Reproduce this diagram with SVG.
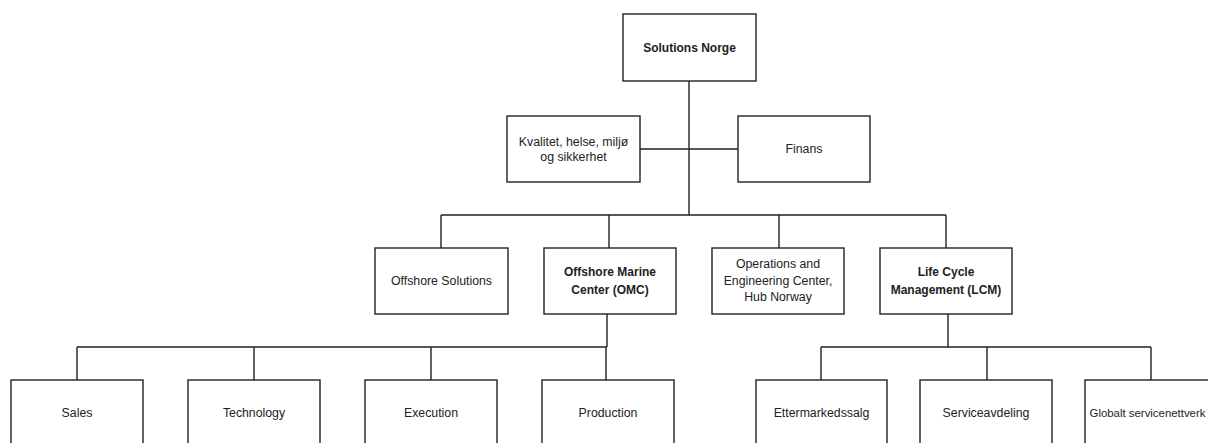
<svg xmlns="http://www.w3.org/2000/svg" width="1208" height="443" viewBox="0 0 1208 443">
<style>
.box{fill:#fff;stroke:#222;stroke-width:1.4}
.t{font-family:"Liberation Sans",Arial,sans-serif;font-size:12.3px;fill:#222;text-anchor:middle;dominant-baseline:central}
.b{font-weight:bold;font-size:12px}
.c{stroke:#222;stroke-width:1.4;fill:none}
</style>
<rect width="1208" height="443" fill="#fff"/>
<g id="connectors">
<path class="c" d="M689 81V215M640 149H738M441 215H946M441 215V248M609 215V248M779 215V248M946 215V248"/>
<path class="c" d="M607 314V347M77 347H607M77 347V380M254 347V380M431 347V380M606 347V380"/>
<path class="c" d="M948 314V347M821 347H1151M821 347V380M987 347V380M1151 347V380"/>
</g>
<g id="solutions-norge"><rect class="box" x="623" y="14" width="133" height="67"/><text class="t b" x="689.5" y="48">Solutions Norge</text></g>
<g id="kvalitet"><rect class="box" x="507" y="116" width="133" height="66"/><text class="t" x="573.5" y="141.5">Kvalitet, helse, miljø</text><text class="t" x="573.5" y="157">og sikkerhet</text></g>
<g id="finans"><rect class="box" x="738" y="116" width="132" height="66"/><text class="t" x="804" y="149">Finans</text></g>
<g id="offshore-solutions"><rect class="box" x="375" y="248" width="133" height="66"/><text class="t" x="441.5" y="281">Offshore Solutions</text></g>
<g id="omc"><rect class="box" x="544" y="248" width="132" height="66"/><text class="t b" x="610" y="272">Offshore Marine</text><text class="t b" x="610" y="289.5">Center (OMC)</text></g>
<g id="operations"><rect class="box" x="712" y="248" width="132" height="66"/><text class="t" x="778" y="263.5">Operations and</text><text class="t" x="778" y="280.5">Engineering Center,</text><text class="t" x="778" y="297">Hub Norway</text></g>
<g id="lcm"><rect class="box" x="880" y="248" width="132" height="66"/><text class="t b" x="946" y="272">Life Cycle</text><text class="t b" x="946" y="289.5">Management (LCM)</text></g>
<g id="sales"><rect class="box" x="11" y="380" width="132" height="70"/><text class="t" x="77" y="413">Sales</text></g>
<g id="technology"><rect class="box" x="188" y="380" width="132" height="70"/><text class="t" x="254" y="413">Technology</text></g>
<g id="execution"><rect class="box" x="365" y="380" width="132" height="70"/><text class="t" x="431" y="413">Execution</text></g>
<g id="production"><rect class="box" x="542" y="380" width="132" height="70"/><text class="t" x="608" y="413">Production</text></g>
<g id="ettermarkedssalg"><rect class="box" x="756" y="380" width="131" height="70"/><text class="t" x="821.5" y="413">Ettermarkedssalg</text></g>
<g id="serviceavdeling"><rect class="box" x="920" y="380" width="132" height="70"/><text class="t" x="986" y="413">Serviceavdeling</text></g>
<g id="globalt"><rect class="box" x="1085" y="380" width="132" height="70"/><text class="t" x="1147.5" y="413" style="font-size:11.4px">Globalt servicenettverk</text></g>
</svg>
